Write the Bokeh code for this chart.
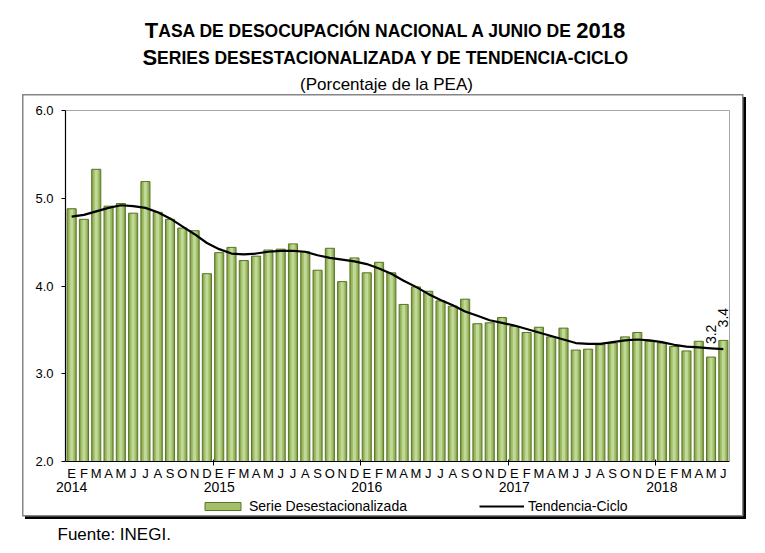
import numpy as np
from bokeh.plotting import figure
from bokeh.models import (FixedTicker, PrintfTickFormatter, LinearAxis, Label,
                          Legend, LegendItem, ColumnDataSource, Range1d)
from bokeh.core.properties import value
from bokeh.embed import file_html
from bokeh.resources import INLINE

# ---------------- data ----------------
years = ["2014", "2015", "2016", "2017", "2018"]
month_letters = ["E", "F", "M", "A", "M", "J", "J", "A", "S", "O", "N", "D"]

serie_desestacionalizada = [
    4.88, 4.76, 5.33, 4.91, 4.94, 4.83, 5.19, 4.84, 4.76, 4.66, 4.63, 4.14,
    4.38, 4.44, 4.29, 4.34, 4.41, 4.42, 4.48, 4.39, 4.18, 4.43, 4.05, 4.32,
    4.15, 4.27, 4.15, 3.79, 3.99, 3.94, 3.83, 3.77, 3.85, 3.57, 3.58, 3.64,
    3.54, 3.47, 3.53, 3.42, 3.52, 3.27, 3.28, 3.33, 3.35, 3.42, 3.47, 3.37,
    3.35, 3.31, 3.26, 3.37, 3.19, 3.38,
]
tendencia_ciclo = [
    4.79, 4.81, 4.85, 4.89, 4.92, 4.91, 4.89, 4.84, 4.77, 4.68, 4.59, 4.49,
    4.42, 4.37, 4.36, 4.37, 4.39, 4.40, 4.40, 4.39, 4.35, 4.32, 4.30, 4.28,
    4.25, 4.20, 4.14, 4.06, 3.99, 3.91, 3.84, 3.78, 3.71, 3.66, 3.61, 3.58,
    3.55, 3.51, 3.47, 3.43, 3.39, 3.35, 3.34, 3.34, 3.36, 3.38, 3.39, 3.38,
    3.36, 3.33, 3.31, 3.30, 3.29, 3.28,
]
y_ticks = [2.0, 3.0, 4.0, 5.0, 6.0]
labelled_last = 2  # last two bars carry value labels

title_1 = "TASA DE DESOCUPACIÓN NACIONAL A JUNIO DE 2018"
title_2 = "SERIES DESESTACIONALIZADA Y DE TENDENCIA-CICLO"
subtitle = "(Porcentaje de la PEA)"
source_note = "Fuente: INEGI."
legend_bar = "Serie Desestacionalizada"
legend_line = "Tendencia-Ciclo"

# ---------------- derived ----------------
n = len(serie_desestacionalizada)
xs = list(range(1, n + 1))
month_labels = {i + 1: month_letters[i % 12] for i in range(n)}
year_ticks = [1 + 12 * k for k in range(len(years))]
year_labels = {t: y for t, y in zip(year_ticks, years)}
year_bounds = [t - 0.5 for t in year_ticks[1:]]
x_lo, x_hi = xs[0] - 0.5, xs[-1] + 0.5
y_lo, y_hi = y_ticks[0], y_ticks[-1]

FONT = "Liberation Sans"
W, H = 765, 553
# plot area (pixels from the top-left of the page)
PL, PT, PR, PB = 65, 110, 729, 461
ppx = (PR - PL) / (x_hi - x_lo)
ppy = (PB - PT) / (y_hi - y_lo)

p = figure(width=W, height=H, output_backend="svg", toolbar_location=None,
           title=None,
           x_range=Range1d(x_lo - PL / ppx, x_hi + (W - PR) / ppx),
           y_range=Range1d(y_lo - (H - PB) / ppy, y_hi + PT / ppy),
           x_axis_type=None, y_axis_type=None,
           min_border=0, min_border_left=0, min_border_right=0,
           min_border_top=0, min_border_bottom=0)
p.outline_line_color = None
p.background_fill_color = None
p.border_fill_color = None
p.grid.visible = False

# chart box with drop shadow, painted as the page element's background
bl, bt, br, bb = 22, 94, 743, 516
segs = [
    ("#858585", bl, bt, br - bl, 1.5),
    ("#858585", bl, bb - 1.5, br - bl, 1.5),
    ("#858585", bl, bt, 1.5, bb - bt),
    ("#858585", br - 1.5, bt, 1.5, bb - bt),
    ("#000000", br, bt + 3, 3, bb - bt),
    ("#000000", bl + 3, bb, br - bl, 3),
]
p.styles = {
    "background-color": "white",
    "background-image": ", ".join(f"linear-gradient({c}, {c})" for c, *_ in segs),
    "background-size": ", ".join(f"{w}px {h}px" for _, _, _, w, h in segs),
    "background-position": ", ".join(f"{x}px {y}px" for _, x, y, _, _ in segs),
    "background-repeat": "no-repeat",
}

TXT = dict(major_label_text_font=FONT, major_label_text_color="black")

# top and right border lines of the plot area
p.add_layout(LinearAxis(ticker=FixedTicker(ticks=[]), fixed_location=y_hi,
                        bounds=(x_lo, x_hi), axis_line_color="#a6a6a6",
                        major_tick_out=0, major_tick_in=0,
                        minor_tick_out=0, minor_tick_in=0), "above")
p.add_layout(LinearAxis(ticker=FixedTicker(ticks=[]), fixed_location=x_hi,
                        bounds=(y_lo, y_hi), axis_line_color="#a6a6a6",
                        major_tick_out=0, major_tick_in=0,
                        minor_tick_out=0, minor_tick_in=0), "right")

# y axis
p.add_layout(LinearAxis(ticker=FixedTicker(ticks=y_ticks), fixed_location=x_lo,
                        bounds=(y_lo, y_hi),
                        formatter=PrintfTickFormatter(format="%.1f"),
                        major_tick_out=4, major_tick_in=0,
                        minor_tick_out=0, minor_tick_in=0,
                        axis_line_color="black", axis_line_width=1.2,
                        major_tick_line_color="black",
                        major_label_standoff=8,
                        major_label_text_font_size="13px", **TXT), "left")

# month axis
p.add_layout(LinearAxis(ticker=FixedTicker(ticks=xs, minor_ticks=year_bounds),
                        fixed_location=y_lo, bounds=(x_lo, x_hi),
                        major_label_overrides=month_labels,
                        major_tick_line_color=None, major_tick_out=0, major_tick_in=0,
                        minor_tick_in=2, minor_tick_out=4,
                        minor_tick_line_color="black",
                        axis_line_color="black", axis_line_width=1.2,
                        major_label_standoff=0,
                        major_label_text_font_size="13px", **TXT), "below")

# year axis
p.add_layout(LinearAxis(ticker=FixedTicker(ticks=year_ticks),
                        fixed_location=y_lo,
                        major_label_overrides=year_labels,
                        axis_line_color=None, major_tick_line_color=None,
                        major_tick_out=0, major_tick_in=0,
                        minor_tick_line_color=None,
                        major_label_standoff=20,
                        major_label_text_font_size="14px", **TXT), "below")

# bars (layered to imitate the gradient)
src = ColumnDataSource(dict(x=xs, v=serie_desestacionalizada))
r1 = p.vbar(x="x", top="v", bottom=y_lo, width=0.74, source=src,
            fill_color="#87a64c", line_color=None)
r2 = p.vbar(x="x", top="v", bottom=y_lo, width=0.50, source=src,
            fill_color="#a2c06a", line_color=None)
r3 = p.vbar(x="x", top="v", bottom=y_lo, width=0.24, source=src,
            fill_color="#c0d898", line_color=None)
r4 = p.vbar(x="x", top="v", bottom=y_lo, width=0.74, source=src,
            fill_color=None, line_color="#5b7629", line_width=1)

rl = p.line(xs, tendencia_ciclo, line_color="black", line_width=2.2)

lab_x = xs[-labelled_last:]
lab_y = serie_desestacionalizada[-labelled_last:]
lab_t = [f"{v:.1f}" for v in lab_y]
lsrc = ColumnDataSource(dict(x=lab_x, y=lab_y, t=lab_t))
p.text(x="x", y="y", text="t", source=lsrc, angle=np.pi / 2,
       text_align="left", text_baseline="middle", y_offset=-13,
       text_font=value(FONT), text_font_size="14px", text_color="black")

legend = Legend(items=[LegendItem(label=legend_bar, renderers=[r2, r4]),
                       LegendItem(label=legend_line, renderers=[rl])],
                orientation="horizontal", location=(200, H - 514),
                glyph_width=45, glyph_height=10, label_height=16,
                label_standoff=4, spacing=72, padding=0, margin=0,
                border_line_color=None, background_fill_alpha=0,
                label_text_font=FONT, label_text_font_size="14px",
                label_text_color="black")
p.add_layout(legend)

# ---------------- titles (small caps) ----------------
AB = {"A": 722, "C": 722, "D": 722, "E": 667, "I": 278, "J": 556, "L": 611,
      "N": 722, "O": 778, "Ó": 778, "P": 667, "R": 722, "S": 667, "T": 611,
      "U": 722, "Y": 667, "Z": 611, " ": 278, "-": 333}
for d in "0123456789":
    AB[d] = 556


def tw(s, size):
    return sum(AB.get(c, 667) for c in s) * size / 1000.0


BIG, SMALL = 22, 17.5
CX = 386


def label(x, y_px, text, size, style="normal", align="left", baseline="alphabetic"):
    p.add_layout(Label(x=x, y=H - y_px, x_units="screen", y_units="screen",
                       text=text, text_font=FONT, text_font_size=f"{size}px",
                       text_font_style=style, text_align=align,
                       text_baseline=baseline, text_color="black"))


def small_caps_line(text, baseline_px):
    pieces = []
    for wi, w in enumerate(text.split(" ")):
        if wi == 0:
            pieces += [(w[0], BIG), (w[1:], SMALL)]
        elif w.isdigit():
            pieces += [(" ", SMALL), (w, BIG)]
        else:
            pieces.append((" " + w, SMALL))
    merged = []
    for s, sz in pieces:
        if merged and merged[-1][1] == sz:
            merged[-1] = (merged[-1][0] + s, sz)
        else:
            merged.append((s, sz))
    total = sum(tw(s, sz) for s, sz in merged)
    x = CX - total / 2
    for i, (s, sz) in enumerate(merged):
        lead = len(s) - len(s.lstrip(" "))
        label(x + tw(" " * lead, sz), baseline_px, s.strip(" "), sz, "bold")
        x += tw(s, sz) - (3 if s.endswith(" ") else 0)


small_caps_line(title_1, 30)
small_caps_line(title_2, 57)
label(CX, 84, subtitle, 17, align="center")
label(57, 534, source_note, 17, baseline="middle")

open("out.html", "w").write(file_html(p, INLINE))
